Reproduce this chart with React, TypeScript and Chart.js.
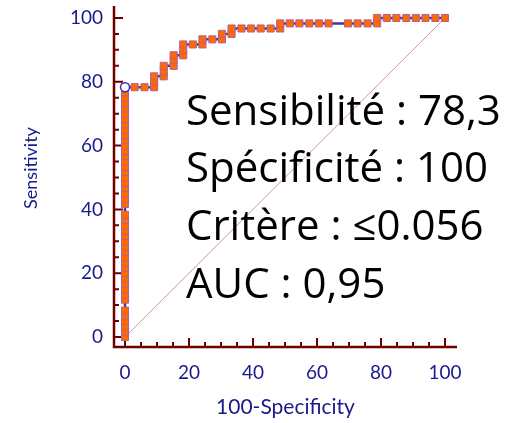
import React, { useEffect, useRef } from 'react';
import { Chart, registerables } from 'chart.js';

Chart.register(...registerables);

// ROC curve points (100-Specificity, Sensitivity)
const rocX: number[] = [
  0, 0, 0, 0, 0, 0, 0, 0, 0, 0,
  0, 0, 0, 0, 0, 0, 0, 0, 0, 0,
  0, 0, 0, 0, 0, 0, 0, 0, 0, 0,
  0, 0, 0, 0, 0, 0, 0, 0, 0, 0,
  0, 0, 0, 0, 0, 0,
  3.0, 6.1,
  9.1, 9.1, 9.1,
  12.1, 12.1, 12.1,
  15.2, 15.2, 15.2,
  18.2, 18.2, 18.2,
  21.2,
  24.2, 24.2,
  27.3,
  30.3, 30.3,
  33.3, 33.3,
  36.4, 39.4, 42.4, 45.5,
  48.5, 48.5,
  51.5, 54.5, 57.6, 60.6, 63.6,
  69.7, 72.7, 75.8,
  78.8, 78.8,
  81.8, 84.8, 87.9, 90.9, 93.9, 97.0, 100,
];
const rocY: number[] = [
  0, 1.7, 3.3, 5.0, 6.7, 8.3, 11.7, 13.3, 15.0, 16.7,
  18.3, 20.0, 21.7, 23.3, 25.0, 26.7, 28.3, 30.0, 31.7, 33.3,
  35.0, 36.7, 38.3, 41.7, 43.3, 45.0, 46.7, 48.3, 50.0, 51.7,
  53.3, 55.0, 56.7, 58.3, 60.0, 61.7, 63.3, 65.0, 66.7, 68.3,
  70.0, 71.7, 73.3, 75.0, 76.7, 78.3,
  78.3, 78.3,
  78.3, 80.0, 81.7,
  81.7, 83.3, 85.0,
  85.0, 86.7, 88.3,
  88.3, 90.0, 91.7,
  91.7,
  91.7, 93.3,
  93.3,
  93.3, 95.0,
  95.0, 96.7,
  96.7, 96.7, 96.7, 96.7,
  96.7, 98.3,
  98.3, 98.3, 98.3, 98.3, 98.3,
  98.3, 98.3, 98.3,
  98.3, 100,
  100, 100, 100, 100, 100, 100, 100,
];

// Optimal criterion point
const criterionX: number[] = [0];
const criterionY: number[] = [78.3];

// Reference diagonal
const diagonalX: number[] = [0, 100];
const diagonalY: number[] = [0, 100];

const majorTicks: number[] = [0, 20, 40, 60, 80, 100];
const minorTicks: number[] = [5, 10, 15, 25, 30, 35, 45, 50, 55, 65, 70, 75, 85, 90, 95];

const xTitle = '100-Specificity';
const yTitle = 'Sensitivity';
const annotationLines: string[] = [
  'Sensibilité : 78,3',
  'Spécificité : 100',
  'Critère : ≤0.056',
  'AUC : 0,95',
];

const FONT = 'Lato, "Open Sans", sans-serif';
const BIG_FONT = '"Open Sans", Lato, sans-serif';
const LABEL_COLOR = '#1a1a8c';
const AXIS_COLOR = '#6b0000';

const toPoints = (xs: number[], ys: number[]) => xs.map((x, i) => ({ x, y: ys[i] }));

const axesPlugin = {
  id: 'rocAxes',
  beforeDatasetsDraw(chart: any) {
    const { ctx, chartArea, scales } = chart;
    const xs = scales.x;
    const ys = scales.y;
    ctx.save();
    ctx.strokeStyle = AXIS_COLOR;
    ctx.lineWidth = 2.5;
    ctx.beginPath();
    ctx.moveTo(chartArea.left, chartArea.top);
    ctx.lineTo(chartArea.left, chartArea.bottom);
    ctx.lineTo(chartArea.right, chartArea.bottom);
    ctx.stroke();
    ctx.lineWidth = 2;
    const all = [...majorTicks.map((v) => [v, 9]), ...minorTicks.map((v) => [v, 5])];
    ctx.beginPath();
    for (const [v, len] of all) {
      const px = xs.getPixelForValue(v);
      ctx.moveTo(px, chartArea.bottom);
      ctx.lineTo(px, chartArea.bottom - len);
      const py = ys.getPixelForValue(v);
      ctx.moveTo(chartArea.left, py);
      ctx.lineTo(chartArea.left + len, py);
    }
    ctx.stroke();
    // y axis title
    ctx.fillStyle = LABEL_COLOR;
    ctx.font = `18px ${FONT}`;
    ctx.textAlign = 'center';
    ctx.textBaseline = 'middle';
    ctx.translate(31, 168);
    ctx.rotate(-Math.PI / 2);
    ctx.fillText(yTitle, 0, 0);
    ctx.restore();
  },
  afterDatasetsDraw(chart: any) {
    const { ctx } = chart;
    ctx.save();
    ctx.fillStyle = '#000000';
    ctx.font = `42px ${BIG_FONT}`;
    ctx.textAlign = 'left';
    ctx.textBaseline = 'alphabetic';
    const baselines = [125, 182, 240, 298];
    annotationLines.forEach((t, i) => ctx.fillText(t, 186, baselines[i]));
    ctx.restore();
  },
};

export default function App() {
  const canvasRef = useRef<HTMLCanvasElement | null>(null);

  useEffect(() => {
    const canvas = canvasRef.current;
    if (!canvas) return;
    const chart = new Chart(canvas, {
      type: 'scatter',
      data: {
        datasets: [
          {
            label: 'Criterion',
            data: toPoints(criterionX, criterionY),
            pointStyle: 'circle',
            pointRadius: 4.5,
            pointBackgroundColor: '#ffffff',
            pointBorderColor: '#3333c0',
            pointBorderWidth: 1.5,
            showLine: false,
          },
          {
            label: 'ROC',
            data: toPoints(rocX, rocY),
            showLine: true,
            borderColor: '#3c3c9c',
            borderWidth: 2.5,
            pointStyle: 'rect',
            pointRadius: 5,
            pointBackgroundColor: '#ff6a00',
            pointBorderColor: '#b0609c',
            pointBorderWidth: 1,
          },
          {
            label: 'Diagonal',
            data: toPoints(diagonalX, diagonalY),
            showLine: true,
            borderColor: '#cc9999',
            borderWidth: 1,
            pointRadius: 0,
          },
        ],
      },
      options: {
        animation: false,
        responsive: false,
        events: [],
        layout: { padding: { left: 0, right: 50, top: 5, bottom: 0 } },
        plugins: { legend: { display: false }, tooltip: { enabled: false } },
        scales: {
          x: {
            type: 'linear',
            min: -3.44,
            max: 103.75,
            afterBuildTicks: (s: any) => {
              s.ticks = majorTicks.map((v) => ({ value: v }));
            },
            afterFit: (s: any) => {
              s.height = 76;
              s.paddingLeft = 0;
              s.paddingRight = 0;
            },
            grid: { display: false, drawTicks: false },
            border: { display: false },
            ticks: {
              color: LABEL_COLOR,
              font: { family: FONT, size: 19 },
              padding: 14,
              maxRotation: 0,
              autoSkip: false,
            },
            title: {
              display: true,
              text: xTitle,
              color: LABEL_COLOR,
              font: { family: FONT, size: 21 },
              padding: { top: 0, bottom: 3 },
            },
          },
          y: {
            type: 'linear',
            min: -3.125,
            max: 103.75,
            afterBuildTicks: (s: any) => {
              s.ticks = majorTicks.map((v) => ({ value: v }));
            },
            afterFit: (s: any) => {
              s.width = 114;
              s.paddingTop = 0;
              s.paddingBottom = 0;
            },
            grid: { display: false, drawTicks: false },
            border: { display: false },
            ticks: {
              color: LABEL_COLOR,
              font: { family: FONT, size: 19 },
              padding: 11,
              autoSkip: false,
            },
            title: { display: false },
          },
        },
      },
      plugins: [axesPlugin],
    });
    return () => chart.destroy();
  }, []);

  return (
    <div style={{ position: 'absolute', left: 0, top: 0, width: 507, height: 423, background: '#ffffff' }}>
      <canvas ref={canvasRef} width={507} height={423} />
    </div>
  );
}
